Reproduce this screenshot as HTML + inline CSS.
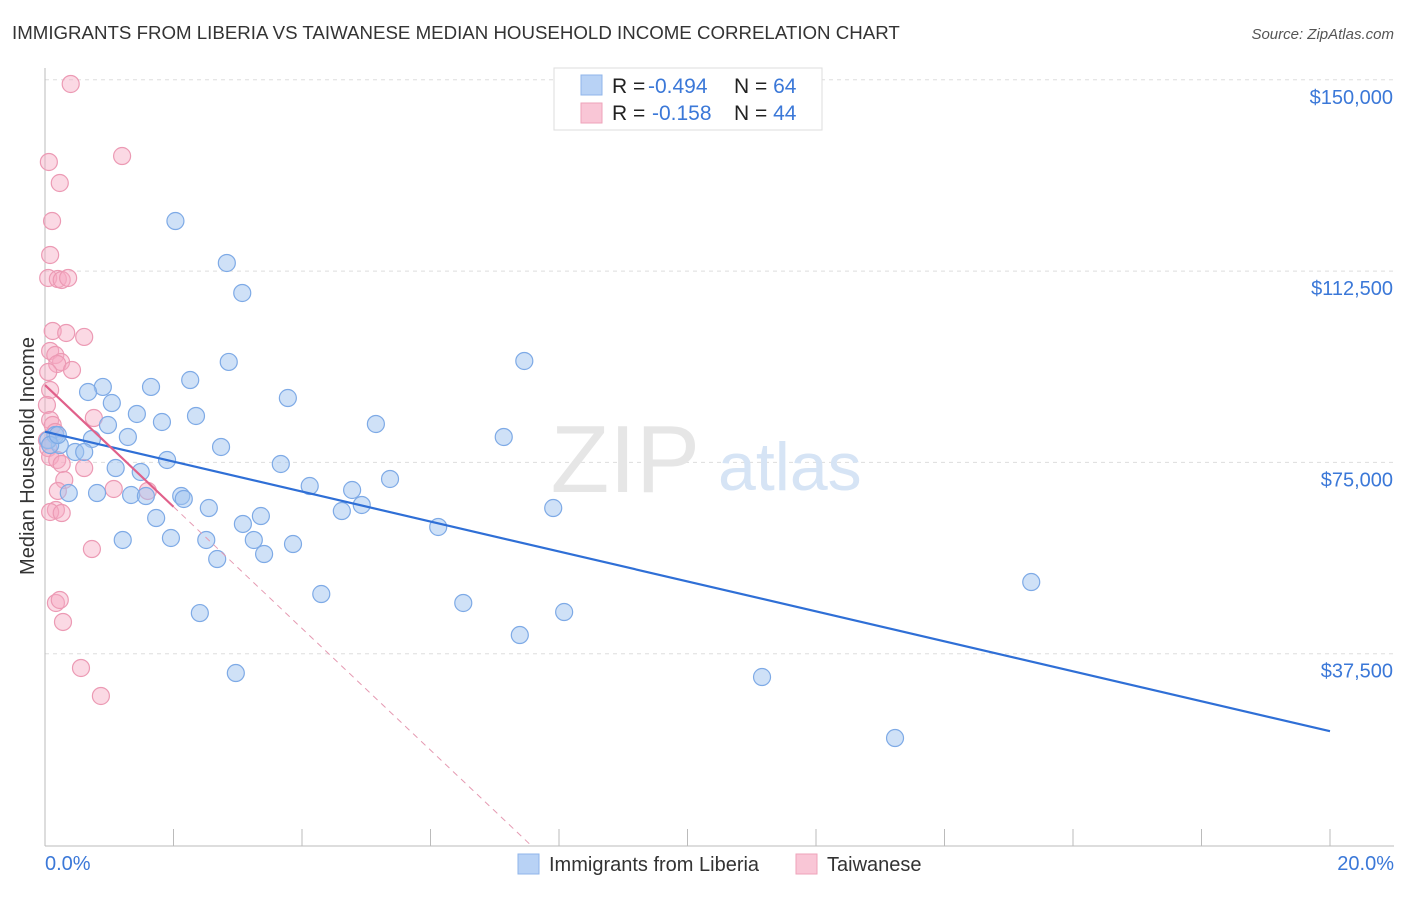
<!DOCTYPE html>
<html><head><meta charset="utf-8"><style>
body{margin:0;background:#fff;font-family:"Liberation Sans",sans-serif;}
svg text{font-family:"Liberation Sans",sans-serif;}
</style></head><body>
<svg id="chart" width="1406" height="892">
<text x="12" y="39" font-size="18.7" fill="#333">IMMIGRANTS FROM LIBERIA VS TAIWANESE MEDIAN HOUSEHOLD INCOME CORRELATION CHART</text>
<text x="1394" y="39" font-size="15" fill="#555" font-style="italic" text-anchor="end">Source: ZipAtlas.com</text>
<g id="grid"></g>
<text x="700" y="492" font-size="96" fill="#e6e6e6" font-family="Liberation Serif" text-anchor="end">ZIP</text>
<text x="718" y="490" font-size="68" fill="#d6e4f5">atlas</text>
<line x1="45" y1="68" x2="45" y2="846" stroke="#bbb"/>
<line x1="45" y1="846" x2="1394" y2="846" stroke="#bbb"/>
<text transform="translate(34,456) rotate(-90)" font-size="20" fill="#333" text-anchor="middle">Median Household Income</text>
<text x="45" y="870" font-size="20" fill="#3b78d8">0.0%</text>
<text x="1394" y="870" font-size="20" fill="#3b78d8" text-anchor="end">20.0%</text>
<g id="ticks"></g>
<g id="pts"></g>
<g id="lines"></g>
<g>
<rect x="554" y="68" width="268" height="62" fill="#fff" stroke="#ddd"/>
<rect x="581" y="75" width="21" height="20" fill="#b8d2f5" stroke="#8fb4ea"/>
<rect x="581" y="103" width="21" height="20" fill="#f9c6d6" stroke="#eea3ba"/>
<text x="612" y="93" font-size="21" fill="#222">R = <tspan x="648" fill="#3b78d8">-0.494</tspan><tspan x="734">N = </tspan><tspan fill="#3b78d8">64</tspan></text>
<text x="612" y="120" font-size="21" fill="#222">R = <tspan x="652" fill="#3b78d8">-0.158</tspan><tspan x="734">N = </tspan><tspan fill="#3b78d8">44</tspan></text>
</g>
<g>
<rect x="518" y="854" width="21" height="20" fill="#b8d2f5" stroke="#8fb4ea"/>
<text x="549" y="871" font-size="20" fill="#333">Immigrants from Liberia</text>
<rect x="796" y="854" width="21" height="20" fill="#f9c6d6" stroke="#eea3ba"/>
<text x="827" y="871" font-size="20" fill="#333">Taiwanese</text>
</g>
</svg>
<script>
const yTicks=[37500,75000,112500,150000];
const yTickLabels=["$37,500","$75,000","$112,500","$150,000"];
const xTicks=[0,2,4,6,8,10,12,14,16,18,20];
const blueX=[2.03,2.83,3.07,7.46,2.86,0.90,1.65,2.26,0.67,1.04,3.78,1.43,2.35,1.82,5.15,0.98,2.74,1.29,0.73,7.14,0.16,0.23,0.47,0.61,1.90,1.10,1.49,3.67,5.37,4.12,4.78,0.37,0.81,1.34,1.57,2.12,2.16,2.55,4.93,4.62,7.91,1.73,3.08,3.36,6.12,1.21,1.96,2.51,3.25,3.86,3.41,2.68,15.35,4.30,6.51,2.41,8.08,7.39,2.97,11.16,13.23,0.05,0.08,0.20];
const blueY=[122320,114090,108210,94880,94690,89790,89790,91150,88800,86640,87620,84490,84100,82920,82530,82330,78020,79980,79590,79980,80370,78410,77040,77040,75470,73900,73120,74690,71750,70370,69590,69000,69000,68610,68410,68410,67830,66060,66650,65470,66060,64100,62930,64490,62340,59790,60180,59790,59790,59000,57040,56060,51550,49200,47440,45470,45670,41160,33710,32930,20970,79390,78410,80370];
const pinkX=[0.40,1.20,0.06,0.23,0.11,0.08,0.05,0.20,0.26,0.36,0.12,0.33,0.61,0.08,0.16,0.25,0.19,0.42,0.05,0.08,0.03,0.76,0.08,0.12,0.16,0.05,0.08,0.19,0.26,0.61,0.30,1.07,0.20,1.60,0.17,0.08,0.26,0.73,0.17,0.23,0.28,0.56,0.87,0.03];
const pinkY=[149180,135060,133890,129770,122320,115660,111150,110950,110760,111150,100760,100370,99590,96840,96050,94680,94290,93110,92720,89190,86250,83700,83310,82330,80960,77820,76060,75470,74690,73900,71550,69790,69400,69400,65670,65280,65080,58020,47440,48030,43720,34700,29210,79390];
const X0=45,X1=1330,Y0=845,PXPER=191.3/37500;
const sx=v=>X0+(v/20)*(X1-X0);
const sy=v=>Y0-v*PXPER;
const NS='http://www.w3.org/2000/svg';
const mk=(t,a,p)=>{const e=document.createElementNS(NS,t);for(const k in a)e.setAttribute(k,a[k]);p.appendChild(e);return e;};
const grid=document.getElementById('grid');
yTicks.forEach((v,i)=>{
 const l=mk('line',{x1:45,x2:1394,y1:sy(v),y2:sy(v),stroke:'#ddd','stroke-dasharray':'4,4'},grid);
 
 
 const t=mk('text',{x:1393,y:sy(v)+24,'font-size':20,fill:'#3b78d8','text-anchor':'end'},grid);
 t.textContent=yTickLabels[i];
 
 
});
const tk=document.getElementById('ticks');
xTicks.forEach(v=>{
 const l=mk('line',{x1:sx(v),x2:sx(v),y1:829,y2:846,stroke:'#bbb'},tk);
 
 
});
const pts=document.getElementById('pts');
pinkX.forEach((x,i)=>{
 const c=mk('circle',{cx:sx(x),cy:sy(pinkY[i]),r:8.5,fill:'rgba(246,170,195,0.45)',stroke:'#ec9ab4','stroke-width':1.2},pts);
 
 
});
blueX.forEach((x,i)=>{
 const c=mk('circle',{cx:sx(x),cy:sy(blueY[i]),r:8.5,fill:'rgba(160,196,240,0.5)',stroke:'#7eaae6','stroke-width':1.2},pts);
 
 
});
const ln=document.getElementById('lines');
function fit(xs,ys){const n=xs.length;let mx=0,my=0;xs.forEach((x,i)=>{mx+=x;my+=ys[i];});mx/=n;my/=n;let a=0,b=0;xs.forEach((x,i)=>{a+=(x-mx)*(ys[i]-my);b+=(x-mx)*(x-mx);});const s=a/b;return [s,my-s*mx];}
const [bs,bi]=fit(blueX,blueY);
let l=mk('line',{x1:sx(0),y1:sy(bi),x2:sx(20),y2:sy(bi+bs*20),stroke:'#2f6fd6','stroke-width':2.2},ln);


const [ps,pi]=fit(pinkX,pinkY);
const xz=-pi/ps;
l=mk('line',{x1:sx(2),y1:sy(pi+ps*2),x2:sx(xz),y2:sy(0),stroke:'#e59ab2','stroke-width':1,'stroke-dasharray':'6,5'},ln);


l=mk('line',{x1:sx(0),y1:sy(pi),x2:sx(2),y2:sy(pi+ps*2),stroke:'#e0608a','stroke-width':2.2},ln);


</script>
</body></html>
